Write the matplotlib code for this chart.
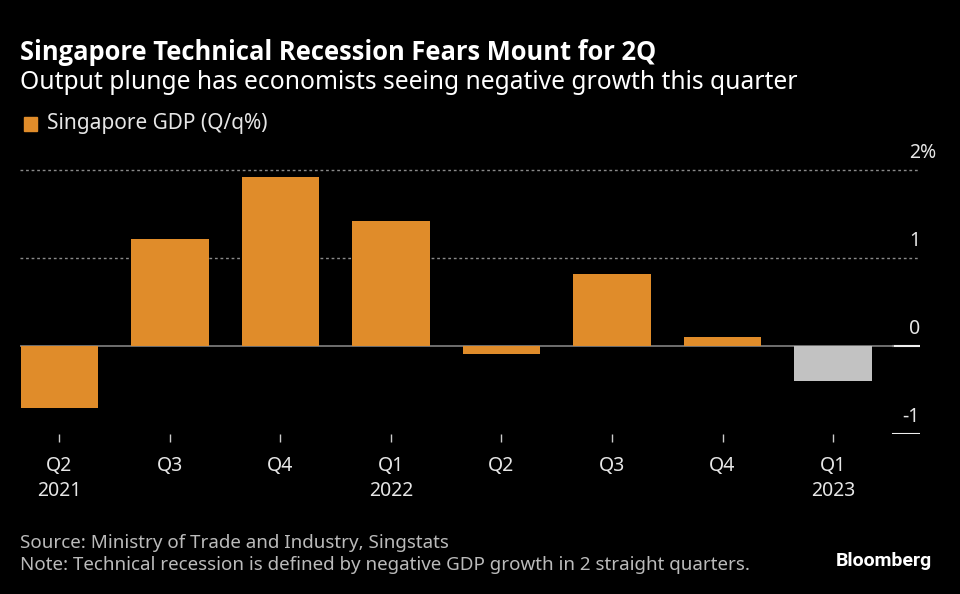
import matplotlib
matplotlib.use('Agg')
import matplotlib.pyplot as plt
import matplotlib.transforms as mtrans
from matplotlib.patches import Rectangle

# data
quarters = ['Q2', 'Q3', 'Q4', 'Q1', 'Q2', 'Q3', 'Q4', 'Q1']
years = ['2021', '', '', '2022', '', '', '', '2023']
gdp = [-0.70, 1.22, 1.92, 1.42, -0.09, 0.82, 0.10, -0.40]
is_estimate = [False, False, False, False, False, False, False, True]
y_ticks = [2, 1, 0, -1]
y_labels = ['2', '1', '0', '-1']

orange = '#e08c2a'
grey_bar = '#c2c2c2'
bg = 'black'
txt = '#e6e6e6'

plt.rcParams['font.family'] = ['Noto Sans', 'DejaVu Sans']

fig = plt.figure(figsize=(9.6, 5.94), dpi=100, facecolor=bg)

# axes: x from 20px to 920px, y=-1 at 434px and y=2 at 170px
W, H = 960, 594
y_lo, y_hi = -1, 2.3
px_per = 88
top_px = 434 - (y_hi - y_lo) * px_per
ax = fig.add_axes([20 / W, 1 - 434 / H, 900 / W, (434 - top_px) / H])
ax.set_facecolor(bg)
ax.set_ylim(y_lo, y_hi)
ax.set_xlim(-0.357, 7.787)

x = list(range(len(gdp)))
colors = [grey_bar if e else orange for e in is_estimate]
ax.bar(x, gdp, width=0.70, color=colors, zorder=3)

# gridlines and y labels
trans = mtrans.blended_transform_factory(ax.transAxes, ax.transData)
for v, lab in zip(y_ticks, y_labels):
    if v > 0:
        ax.axhline(v, color='#8a8a8a', lw=1, ls=(0, (2, 2)), zorder=1)
    else:
        ax.axhline(v, xmin=0.97, xmax=1.0, color='#eeeeee', lw=1.5, zorder=2)
    ax.text(1.0, v + 0.08, lab, transform=trans, ha='right', va='bottom',
            color=txt, fontsize=14)
# percent sign hangs past the label column
ax.text(1.0, y_ticks[0] + 0.08, '%', transform=trans, ha='left', va='bottom',
        color=txt, fontsize=14)
ax.axhline(0, xmin=0, xmax=0.97, color='#777777', lw=1.3, zorder=2)

for s in ax.spines.values():
    s.set_visible(False)
ax.set_yticks([])
ax.set_xticks(x)
ax.set_xticklabels([q + ('\n' + yr if yr else '') for q, yr in zip(quarters, years)],
                   color=txt, fontsize=14, linespacing=1.35, va='top')
ax.tick_params(axis='x', length=6, width=1, color='#cccccc', pad=10, direction='out')

# titles
fig.text(20 / W, 1 - 60 / H, 'Singapore Technical Recession Fears Mount for 2Q',
         color='white', fontsize=18.4, fontweight='bold', ha='left', va='baseline',
         family=['Open Sans', 'DejaVu Sans'])
fig.text(20 / W, 1 - 89 / H, 'Output plunge has economists seeing negative growth this quarter',
         color='white', fontsize=17.7, ha='left', va='baseline')

# legend
fig.patches.append(Rectangle((24 / W, 1 - 131 / H), 13 / W, 14 / H,
                             transform=fig.transFigure, color=orange))
fig.text(47 / W, 1 - 124 / H, 'Singapore GDP (Q/q%)', color=txt, fontsize=15,
         ha='left', va='center')

# footer
fig.text(20 / W, 1 - 543 / H, 'Source: Ministry of Trade and Industry, Singstats',
         color='#bbbbbb', fontsize=13.5, ha='left', va='center')
fig.text(20 / W, 1 - 565 / H,
         'Note: Technical recession is defined by negative GDP growth in 2 straight quarters.',
         color='#bbbbbb', fontsize=13.5, ha='left', va='center')
fig.text(932 / W, 1 - 561 / H, 'Bloomberg', color='white', fontsize=14,
         fontweight='bold', ha='right', va='center',
         family=['Roboto', 'DejaVu Sans'])

fig.savefig('out.png', dpi=100, facecolor=bg)
